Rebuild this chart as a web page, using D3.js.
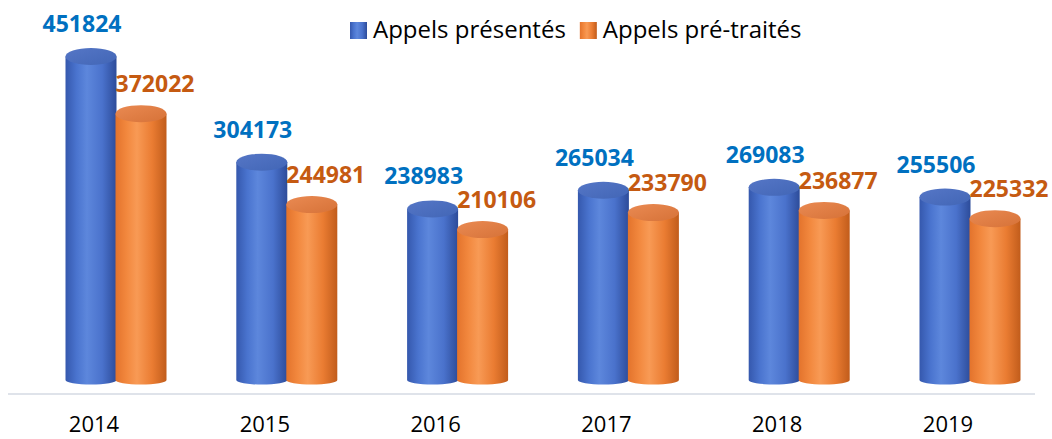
<!DOCTYPE html>
<html>
<head>
<meta charset="utf-8">
<script src="https://cdnjs.cloudflare.com/ajax/libs/d3/7.8.5/d3.min.js"></script>
<style>
	body { margin: 0; background: #fff; }
	svg { display: block; }
</style>
</head>
<body>
<svg id="chart"></svg>
<script>
var years = ["2014", "2015", "2016", "2017", "2018", "2019"];
var keys = ["Appels présentés", "Appels pré-traités"];
var presentes = [451824, 304173, 238983, 265034, 269083, 255506];
var pretraites = [372022, 244981, 210106, 233790, 236877, 225332];

(function(){
	'use strict';

	var width = 1052, height = 439;
	var svg = d3.select("#chart").attr("width", width).attr("height", height);

	var data = years.map(function(y, i){
		return { year: y, values: [presentes[i], pretraites[i]] };
	});

	var x0 = d3.scaleBand().domain(years).range([8.6, 1033.4]);
	// cylinders sit a bit right of the band centre (3d depth)
	var x1 = d3.scaleBand().domain(keys).range([-28, 72]);
	var y = d3.scaleLinear().domain([0, 500000]).range([380, 22]);

	var rx = 25.5, ryTop = 8.5, ryBot = 4.5;

	var colors = {
		"Appels présentés": { side: ["#3558ad", "#4a74cf", "#5d87dc", "#4a72cc", "#2d4c9a"], top: ["#5576c6", "#4266b6"], label: "#0070c0" },
		"Appels pré-traités": { side: ["#e3732c", "#f2883e", "#f89a55", "#ea7c32", "#c15c1b"], top: ["#ea8a52", "#d67238"], label: "#c55a11" }
	};

	var defs = svg.append("defs");
	keys.forEach(function(k, i){
		var g = defs.append("linearGradient").attr("id", "side" + i).attr("x1", "0%").attr("x2", "100%");
		var stops = [0, 0.22, 0.42, 0.72, 1];
		colors[k].side.forEach(function(c, j){
			g.append("stop").attr("offset", stops[j]).attr("stop-color", c);
		});
		var t = defs.append("linearGradient").attr("id", "top" + i).attr("x1", "0%").attr("x2", "100%").attr("y1", "0%").attr("y2", "100%");
		t.append("stop").attr("offset", 0).attr("stop-color", colors[k].top[0]);
		t.append("stop").attr("offset", 1).attr("stop-color", colors[k].top[1]);
	});

	// axis line
	svg.append("line")
		.attr("x1", 8).attr("x2", 1035)
		.attr("y1", 394).attr("y2", 394)
		.attr("stroke", "#dfe3ea").attr("stroke-width", 2);

	// year labels
	var xAxis = svg.append("g")
		.attr("transform", "translate(0,394)")
		.call(d3.axisBottom(x0).tickSize(0).tickPadding(0));
	xAxis.select(".domain").remove();
	xAxis.selectAll("text")
		.attr("y", 38)
		.attr("dy", 0)
		.style("font-family", "'Open Sans', sans-serif")
		.style("font-size", "22px")
		.attr("fill", "#000");

	var groups = svg.selectAll(".year")
		.data(data)
		.enter().append("g")
		.attr("class", "year")
		.attr("transform", function(d){ return "translate(" + (x0(d.year) + x0.bandwidth() / 2) + ",0)"; });

	var cyl = groups.selectAll(".cyl")
		.data(function(d){ return d.values.map(function(v, i){ return { key: keys[i], idx: i, value: v }; }); })
		.enter().append("g")
		.attr("class", "cyl");

	function cx(d){ return x1(d.key) + x1.bandwidth() / 2; }

	cyl.append("path")
		.attr("fill", function(d){ return "url(#side" + d.idx + ")"; })
		.attr("d", function(d){
			var c = cx(d), yt = y(d.value), yb = y(0);
			return "M" + (c - rx) + "," + yt +
				"L" + (c - rx) + "," + yb +
				"A" + rx + "," + ryBot + " 0 0 0 " + (c + rx) + "," + yb +
				"L" + (c + rx) + "," + yt + "Z";
		});

	cyl.append("ellipse")
		.attr("cx", cx)
		.attr("cy", function(d){ return y(d.value); })
		.attr("rx", rx)
		.attr("ry", ryTop)
		.attr("fill", function(d){ return "url(#top" + d.idx + ")"; });

	// value labels
	cyl.append("text")
		.attr("x", function(d){ return cx(d) + (d.idx === 0 ? -9 : 14); })
		.attr("y", function(d){ return y(d.value) - ryTop - (d.idx === 0 ? 16 : 13); })
		.attr("text-anchor", "middle")
		.style("font-family", "'Open Sans', sans-serif")
		.style("font-weight", "bold")
		.style("font-size", "23px")
		.attr("fill", function(d){ return colors[d.key].label; })
		.text(function(d){ return d.value; });

	// legend
	var legend = svg.append("g").attr("transform", "translate(350,22)");
	var lx = 0;
	keys.forEach(function(k, i){
		legend.append("rect")
			.attr("x", lx).attr("y", 0)
			.attr("width", 17).attr("height", 17)
			.attr("fill", "url(#side" + i + ")");
		var t = legend.append("text")
			.attr("x", lx + 23).attr("y", 16)
			.style("font-family", "'Open Sans', sans-serif")
			.style("font-size", "24px")
			.attr("fill", "#000")
			.text(k);
		lx += 23 + t.node().getComputedTextLength() + 14;
	});
})();
</script>
</body>
</html>
